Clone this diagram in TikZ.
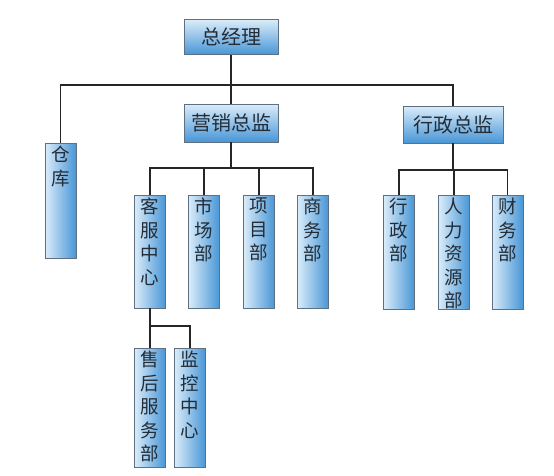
\documentclass[tikz,border=0pt]{standalone}
\usepackage{fontspec}
\newfontfamily\cjk{Noto Sans CJK SC}
\usetikzlibrary{positioning}

\definecolor{boxlight}{RGB}{218,236,250}
\definecolor{boxdark}{RGB}{72,150,214}
\definecolor{boxline}{RGB}{95,112,130}
\definecolor{txtcol}{RGB}{35,45,55}

% vertical label: box height, stacked characters
\newcommand{\vlab}[2]{\parbox[c][#1][t]{24pt}{\vspace*{3pt}\centering #2}}

\tikzset{
  hbox/.style={draw=boxline, top color=boxlight, bottom color=boxdark,
    minimum width=94pt, minimum height=36pt, inner sep=0pt,
    font=\cjk\fontsize{20}{22}\selectfont, text=txtcol},
  vbox/.style={draw=boxline, left color=boxlight, right color=boxdark,
    minimum width=31pt, anchor=north, inner sep=0pt,
    font=\cjk\fontsize{18.5}{23.5}\selectfont, text=txtcol},
  link/.style={line width=1.3pt, draw=black!85}
}

\begin{document}
\begin{tikzpicture}[x=1pt, y=-1pt]
    \useasboundingbox (0,0) rectangle (554,475);

    % Top level
    \node[hbox, minimum height=35pt] (ceo) at (231,37) {总经理};

    % Directors
    \node[hbox, minimum height=38pt] (yx) at (231,123) {营销总监};
    \node[hbox, minimum width=100pt, minimum height=37pt] (xz) at (453,124.5) {行政总监};

    % Storage
    \node[vbox] (ck) at (60.5,143) {\vlab{115pt}{仓\\库}};

    % Sales departments
    \node[vbox] (kf) at (150,195) {\vlab{113pt}{客\\服\\中\\心}};
    \node[vbox] (sc) at (204,195) {\vlab{113pt}{市\\场\\部}};
    \node[vbox] (xm) at (259,195) {\vlab{113pt}{项\\目\\部}};
    \node[vbox] (sw) at (313,195) {\vlab{113pt}{商\\务\\部}};

    % Admin departments
    \node[vbox] (xzb) at (399,195) {\vlab{114pt}{行\\政\\部}};
    \node[vbox] (rl) at (454,195) {\vlab{114pt}{人\\力\\资\\源\\部}};
    \node[vbox] (cw) at (507.5,195) {\vlab{114pt}{财\\务\\部}};

    % Customer service units
    \node[vbox] (sh) at (150,348) {\vlab{119pt}{售\\后\\服\\务\\部}};
    \node[vbox] (jk) at (190,348) {\vlab{119pt}{监\\控\\中\\心}};

    % Bars
    \coordinate (bar1) at (231,85);
    \coordinate (bar2) at (231,168);
    \coordinate (bar3) at (453,170);
    \coordinate (bar4) at (150,326);

    % Connectors
    \draw[link] (ceo.south) -- (yx.north);
    \draw[link] (ck.north) |- (bar1) -| (xz.north);

    \draw[link] (yx.south) -- (bar2);
    \draw[link] (kf.north) |- (bar2) -| (sw.north);
    \draw[link] (sc.north) -- (sc.north |- bar2);
    \draw[link] (xm.north) -- (xm.north |- bar2);

    \draw[link] (xz.south) -- (bar3);
    \draw[link] (xzb.north) |- (bar3) -| (cw.north);
    \draw[link] (rl.north) -- (rl.north |- bar3);

    \draw[link] (kf.south) -- (sh.north);
    \draw[link] (bar4) -| (jk.north);
\end{tikzpicture}
\end{document}
